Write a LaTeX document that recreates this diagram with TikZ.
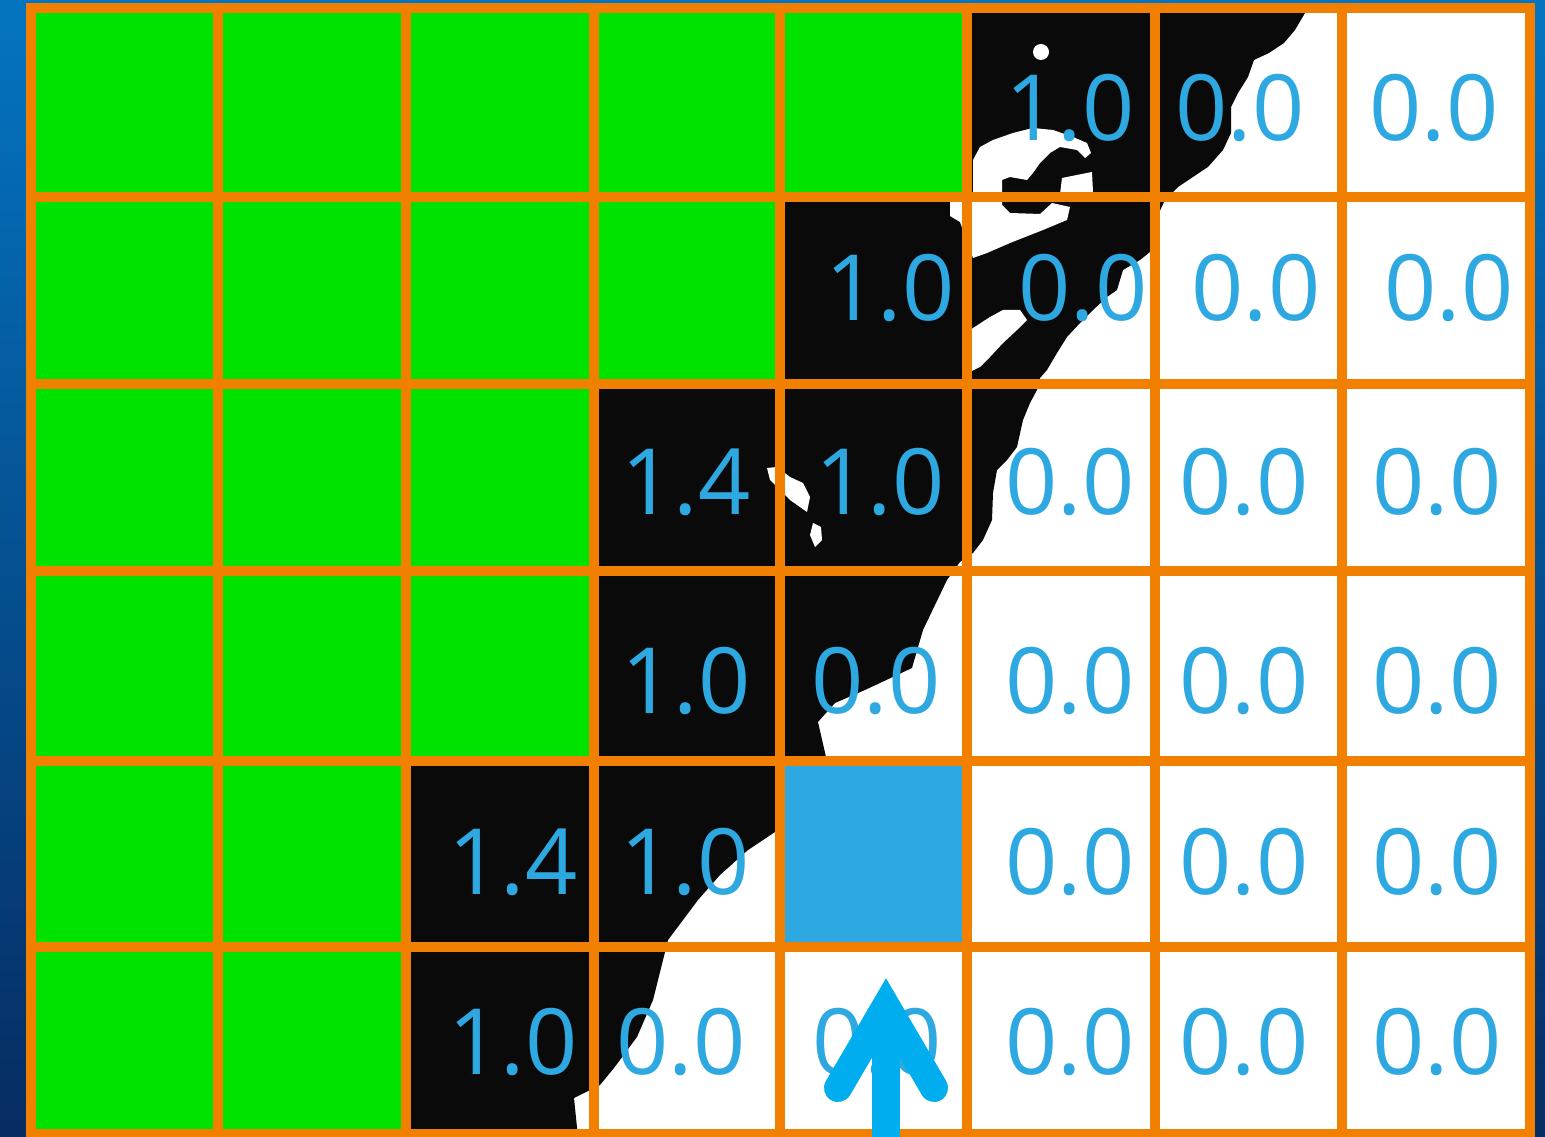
\documentclass[tikz,border=0pt]{standalone}
\usepackage{fontspec}
\setmainfont{Open Sans}
\definecolor{arancio}{RGB}{242,128,0}
\definecolor{verde}{RGB}{0,226,0}
\definecolor{nero}{RGB}{10,10,10}
\definecolor{azzurro}{RGB}{46,168,224}
\definecolor{blufreccia}{RGB}{0,174,239}
\definecolor{sfondoalto}{RGB}{4,116,192}
\definecolor{sfondobasso}{RGB}{6,44,98}

\begin{document}
\begin{tikzpicture}[x=0.01cm, y=-0.01cm,
        valore/.style={text=azzurro, font=\fontsize{26}{26}\selectfont, inner sep=0pt},
        griglia/.style={draw=arancio, line width=0.1cm},
        macchia/.style={fill=white, draw=none},
        freccia/.style={draw=blufreccia, line width=0.28cm, line join=miter}]
        \useasboundingbox (0,0) rectangle (1545,1137);
        \clip (0,0) rectangle (1545,1137);

        %sfondo
        \shade[top color=sfondoalto, bottom color=sfondobasso] (0,0) rectangle (1545,1137);
        \fill[white] (31,8) rectangle (1530,1134);

        %regione nera
        \fill[nero] (400,13) -- (1305,13) -- (1295,30) -- (1284,43) -- (1269,53) -- (1254,60) -- (1248,77) -- (1238,93) -- (1231,107) -- (1231,133) -- (1223,150) -- (1208,167) -- (1193,177) -- (1178,187) -- (1165,200) -- (1158,215) -- (1150,252) -- (1140,260) -- (1123,270) -- (1117,290) -- (1107,297) -- (1093,310) -- (1080,323) -- (1067,337) -- (1057,353) -- (1047,370) -- (1040,378) -- (1037,390) -- (1030,403) -- (1023,420) -- (1017,447) -- (1007,460) -- (997,470) -- (993,493) -- (992,520) -- (983,540) -- (973,553) -- (960,562) -- (947,580) -- (935,605) -- (923,630) -- (912,668) -- (865,690) -- (835,703) -- (818,722) -- (826,757) -- (800,795) -- (775,832) -- (748,850) -- (720,875) -- (698,900) -- (668,940) -- (653,1000) -- (637,1037) -- (614,1068) -- (600,1085) -- (590,1090) -- (574,1098) -- (578,1137) -- (400,1137) -- cycle;

        %macchie bianche
        \fill[macchia] (1041,52) circle (8);
        \fill[macchia] (950,200) -- (973,192) -- (973,160) -- (980,147) -- (993,140) -- (1013,133) -- (1033,128) -- (1053,130) -- (1073,137) -- (1087,143) -- (1091,153) -- (1085,158) -- (1077,150) -- (1060,147) -- (1050,153) -- (1040,163) -- (1033,173) -- (1027,180) -- (1010,177) -- (1002,180) -- (1002,205) -- (1010,213) -- (1040,214) -- (1052,203) -- (1070,207) -- (1067,220) -- (1043,230) -- (1010,243) -- (987,253) -- (973,258) -- (960,222) -- (950,216) -- cycle;
        \fill[macchia] (1062,178) -- (1092,172) -- (1093,192) -- (1060,194) -- cycle;
        \fill[macchia] (970,330) -- (990,317) -- (1003,310) -- (1020,310) -- (1027,320) -- (1017,330) -- (1003,343) -- (990,357) -- (980,367) -- (970,372) -- cycle;
        \fill[macchia] (767,468) -- (777,467) -- (790,477) -- (803,483) -- (810,497) -- (807,512) -- (790,500) -- (777,487) -- (770,480) -- cycle;
        \fill[macchia] (813,523) -- (821,527) -- (822,540) -- (815,547) -- (810,535) -- cycle;

        %celle verdi e cella blu
        \fill[verde] (31,8) -- (967,8) -- (967,197) -- (780,197) -- (780,384) -- (594,384) -- (594,761) -- (406,761) -- (406,1134) -- (31,1134) -- cycle;
        \fill[azzurro] (780,761) rectangle (967,947);

        %griglia
        \draw[griglia] (31,8) rectangle (1530,1134);
        \draw[griglia] (218,8) -- (218,1134);
        \draw[griglia] (406,8) -- (406,1134);
        \draw[griglia] (594,8) -- (594,1134);
        \draw[griglia] (780,8) -- (780,1134);
        \draw[griglia] (967,8) -- (967,1134);
        \draw[griglia] (1155,8) -- (1155,1134);
        \draw[griglia] (1342,8) -- (1342,1134);
        \draw[griglia] (31,197) -- (1530,197);
        \draw[griglia] (31,384) -- (1530,384);
        \draw[griglia] (31,571) -- (1530,571);
        \draw[griglia] (31,761) -- (1530,761);
        \draw[griglia] (31,947) -- (1530,947);

        %valori
        \node[valore] (n16) at (1070,108) {1.0};
        \node[valore] (n17) at (1240,108) {0.0};
        \node[valore] (n18) at (1434,108) {0.0};
        \node[valore] (n25) at (890,288) {1.0};
        \node[valore] (n26) at (1083,288) {0.0};
        \node[valore] (n27) at (1256,288) {0.0};
        \node[valore] (n28) at (1449,288) {0.0};
        \node[valore] (n34) at (686,482) {1.4};
        \node[valore] (n35) at (880,482) {1.0};
        \node[valore] (n36) at (1070,482) {0.0};
        \node[valore] (n37) at (1244,482) {0.0};
        \node[valore] (n38) at (1437,482) {0.0};
        \node[valore] (n44) at (686,681) {1.0};
        \node[valore] (n45) at (876,681) {0.0};
        \node[valore] (n46) at (1070,681) {0.0};
        \node[valore] (n47) at (1244,681) {0.0};
        \node[valore] (n48) at (1437,681) {0.0};
        \node[valore] (n53) at (513,862) {1.4};
        \node[valore] (n54) at (685,862) {1.0};
        \node[valore] (n56) at (1070,862) {0.0};
        \node[valore] (n57) at (1244,862) {0.0};
        \node[valore] (n58) at (1437,862) {0.0};
        \node[valore] (n63) at (513,1042) {1.0};
        \node[valore] (n64) at (681,1042) {0.0};
        \node[valore] (n65) at (877,1042) {0.0};
        \node[valore] (n66) at (1070,1042) {0.0};
        \node[valore] (n67) at (1244,1042) {0.0};
        \node[valore] (n68) at (1437,1042) {0.0};

        %freccia
        \draw[freccia] (886,1145) -- (886,1012);
        \draw[freccia, line cap=round] (838,1088) -- (886,1006) -- (934,1088);
\end{tikzpicture}
\end{document}
